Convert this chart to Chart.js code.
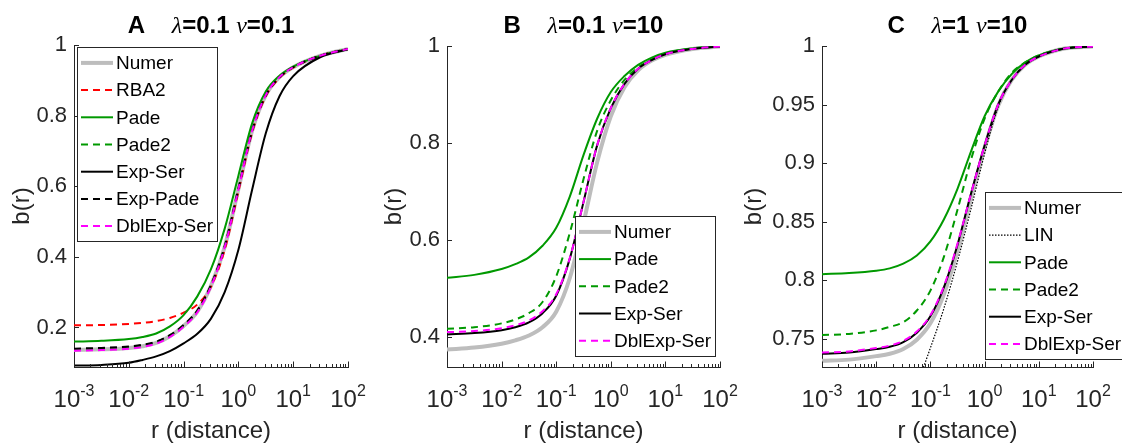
<!doctype html>
<html lang="en">
<head>
<meta charset="utf-8">
<title>b(r) approximations</title>
<script src="https://cdn.jsdelivr.net/npm/chart.js@4.4.1/dist/chart.umd.min.js"></script>
<style>
    body { margin: 0; background: #fff; }
    #wrap { position: relative; width: 1122px; height: 446px; }
    #wrap canvas { position: absolute; top: 0; }
</style>
</head>
<body>
<div id="wrap">
    <canvas id="chartA" width="372" height="446" style="left:0px"></canvas>
    <canvas id="chartB" width="366" height="446" style="left:372px"></canvas>
    <canvas id="chartC" width="384" height="446" style="left:738px"></canvas>
</div>

<script>
    // r (distance) samples, quarter / half decades
    const rDist = [0.001, 0.00316, 0.01, 0.0178, 0.0316, 0.0562, 0.1, 0.178, 0.316, 0.562, 1, 1.78, 3.16, 5.62, 10, 31.6, 100];
    const xTicks = [0.001, 0.01, 0.1, 1, 10, 100];
    const xTickExp = ['-3', '-2', '-1', '0', '1', '2'];

    // A: lambda=0.1 nu=0.1
    const yTicksA = [0.2, 0.4, 0.6, 0.8, 1];
    const numerA   = [0.136, 0.138, 0.142, 0.147, 0.156, 0.175, 0.204, 0.245, 0.318, 0.428, 0.592, 0.757, 0.858, 0.909, 0.937, 0.970, 0.989];
    const rba2A    = [0.206, 0.207, 0.210, 0.213, 0.218, 0.227, 0.242, 0.265, 0.315, 0.420, 0.585, 0.752, 0.855, 0.907, 0.936, 0.970, 0.989];
    const padeA    = [0.160, 0.162, 0.167, 0.173, 0.183, 0.203, 0.235, 0.288, 0.365, 0.480, 0.630, 0.778, 0.868, 0.913, 0.939, 0.970, 0.989];
    const pade2A   = [0.138, 0.140, 0.144, 0.149, 0.158, 0.177, 0.206, 0.247, 0.320, 0.431, 0.595, 0.759, 0.859, 0.909, 0.937, 0.970, 0.989];
    const expSerA  = [0.092, 0.094, 0.100, 0.108, 0.118, 0.133, 0.155, 0.182, 0.225, 0.300, 0.420, 0.590, 0.750, 0.855, 0.912, 0.966, 0.988];
    const expPadeA = [0.140, 0.142, 0.146, 0.151, 0.160, 0.178, 0.207, 0.248, 0.320, 0.429, 0.592, 0.756, 0.857, 0.908, 0.937, 0.970, 0.989];
    const dblExpA  = [0.134, 0.136, 0.140, 0.145, 0.154, 0.173, 0.202, 0.243, 0.316, 0.427, 0.591, 0.757, 0.858, 0.909, 0.937, 0.970, 0.989];

    // B: lambda=0.1 nu=10
    const yTicksB = [0.4, 0.6, 0.8, 1];
    const numerB  = [0.374, 0.378, 0.386, 0.393, 0.403, 0.420, 0.452, 0.522, 0.635, 0.760, 0.855, 0.915, 0.950, 0.970, 0.982, 0.994, 0.999];
    const padeB   = [0.522, 0.528, 0.540, 0.550, 0.564, 0.588, 0.625, 0.690, 0.775, 0.850, 0.905, 0.938, 0.961, 0.976, 0.986, 0.995, 0.999];
    const pade2B  = [0.417, 0.420, 0.428, 0.436, 0.449, 0.472, 0.525, 0.615, 0.725, 0.825, 0.888, 0.930, 0.956, 0.972, 0.984, 0.995, 0.999];
    const expSerB = [0.405, 0.408, 0.414, 0.420, 0.430, 0.449, 0.485, 0.562, 0.678, 0.795, 0.872, 0.922, 0.953, 0.971, 0.983, 0.994, 0.999];
    const dblExpB = [0.410, 0.412, 0.418, 0.424, 0.434, 0.453, 0.488, 0.563, 0.678, 0.795, 0.872, 0.922, 0.953, 0.971, 0.983, 0.994, 0.999];

    // C: lambda=1 nu=10
    const yTicksC = [0.75, 0.8, 0.85, 0.9, 0.95, 1];
    const numerC  = [0.731, 0.732, 0.735, 0.737, 0.741, 0.749, 0.763, 0.788, 0.825, 0.870, 0.913, 0.949, 0.971, 0.984, 0.991, 0.998, 0.9995];
    const linC    = [null, null, null, null, 0.680, 0.710, 0.742, 0.776, 0.816, 0.861, 0.908, 0.948, 0.971, 0.984, 0.991, 0.998, 0.9995];
    const padeC   = [0.805, 0.806, 0.808, 0.810, 0.814, 0.821, 0.833, 0.852, 0.878, 0.910, 0.940, 0.961, 0.976, 0.986, 0.992, 0.998, 0.9995];
    const pade2C  = [0.753, 0.754, 0.757, 0.760, 0.764, 0.774, 0.791, 0.820, 0.860, 0.903, 0.938, 0.961, 0.977, 0.986, 0.992, 0.998, 0.9995];
    const expSerC = [0.737, 0.738, 0.741, 0.743, 0.747, 0.755, 0.769, 0.794, 0.830, 0.874, 0.915, 0.950, 0.971, 0.984, 0.991, 0.998, 0.9995];
    const dblExpC = [0.738, 0.739, 0.742, 0.744, 0.748, 0.756, 0.770, 0.795, 0.831, 0.874, 0.915, 0.950, 0.971, 0.984, 0.991, 0.998, 0.9995];
</script>

<script>
    const AXIS = '#262626';
    const SANS = '"Liberation Sans", Arial, sans-serif';
    Chart.defaults.font.family = SANS;
    Chart.defaults.color = AXIS;

    const styles = {
        'Numer':      {color: '#bdbdbd', width: 4,   dash: []},
        'RBA2':       {color: '#ff0000', width: 2,   dash: [7, 5]},
        'LIN':        {color: '#000000', width: 1.2, dash: [1.5, 1.5]},
        'Pade':       {color: '#009900', width: 2,   dash: []},
        'Pade2':      {color: '#009900', width: 2,   dash: [7, 5]},
        'Exp-Ser':    {color: '#000000', width: 2,   dash: []},
        'Exp-Pade':   {color: '#000000', width: 2,   dash: [7, 5]},
        'DblExp-Ser': {color: '#ff00ff', width: 2,   dash: [7, 5]}
    };

    const panels = [
        {canvas: 'chartA', left: 0, width: 372, area: {l: 74, r: 348, t: 45, b: 367},
            yMin: 0.088, yTicks: yTicksA, letter: 'A', lambda: '0.1', nu: '0.1', yTitlePad: 8,
            legend: {x: 77, y: 47},
            series: [['Numer', numerA], ['RBA2', rba2A], ['Pade', padeA], ['Pade2', pade2A],
                ['Exp-Ser', expSerA], ['Exp-Pade', expPadeA], ['DblExp-Ser', dblExpA]]},
        {canvas: 'chartB', left: 372, width: 366, area: {l: 447, r: 720, t: 46, b: 367},
            yMin: 0.338, yTicks: yTicksB, letter: 'B', lambda: '0.1', nu: '10', yTitlePad: 7.5,
            legend: {x: 575, y: 216},
            series: [['Numer', numerB], ['Pade', padeB], ['Pade2', pade2B],
                ['Exp-Ser', expSerB], ['DblExp-Ser', dblExpB]]},
        {canvas: 'chartC', left: 738, width: 384, area: {l: 822, r: 1093, t: 46, b: 367},
            yMin: 0.7257, yTicks: yTicksC, letter: 'C', lambda: '1', nu: '10', yTitlePad: 1.5,
            legend: {x: 985, y: 192},
            series: [['Numer', numerC], ['LIN', linC], ['Pade', padeC], ['Pade2', pade2C],
                ['Exp-Ser', expSerC], ['DblExp-Ser', dblExpC]]}
    ];

    function hline(ctx, x1, y1, x2, y2) {
        ctx.beginPath();
        ctx.moveTo(x1, y1);
        ctx.lineTo(x2, y2);
        ctx.stroke();
    }

    // matlab-like decorations: inward ticks, 10^n labels, title, boxed legend
    const decor = {
        id: 'decor',
        afterDraw(chart) {
            const p = chart.config.options.plugins.decor.panel;
            const ctx = chart.ctx, a = chart.chartArea;
            const xs = chart.scales.x, ys = chart.scales.y;
            ctx.save();
            ctx.strokeStyle = AXIS;
            ctx.lineWidth = 1;
            ctx.setLineDash([]);

            ys.ticks.forEach(t => {
                const py = Math.round(ys.getPixelForValue(t.value)) + 0.5;
                hline(ctx, a.left, py, a.left + 5, py);
            });
            for (let e = -3; e <= 2; e++) {
                for (let m = 1; m <= 9; m++) {
                    const v = m * Math.pow(10, e);
                    if (v > 100.0001) break;
                    const px = Math.round(xs.getPixelForValue(v)) + 0.5;
                    hline(ctx, px, a.bottom, px, a.bottom - (m === 1 ? 5.5 : 3));
                }
            }

            // x tick labels with superscript exponent
            ctx.fillStyle = AXIS;
            ctx.textBaseline = 'alphabetic';
            ctx.textAlign = 'left';
            xTicks.forEach((v, i) => {
                const px = xs.getPixelForValue(v);
                ctx.font = '24px ' + SANS;
                const w1 = ctx.measureText('10').width;
                ctx.font = '16px ' + SANS;
                const w2 = ctx.measureText(xTickExp[i]).width;
                const x0 = px - (w1 + w2) / 2;
                ctx.font = '24px ' + SANS;
                ctx.fillText('10', x0, 407);
                ctx.font = '16px ' + SANS;
                ctx.fillText(xTickExp[i], x0 + w1, 396);
            });

            // title
            const bold = 'bold 24px ' + SANS, greek = 'italic 24px "Liberation Serif", "DejaVu Serif", serif';
            const parts = [[p.letter + '    ', bold], ['λ', greek], ['=' + p.lambda + ' ', bold], ['ν', greek], ['=' + p.nu, bold]];
            let tw = 0;
            parts.forEach(s => { ctx.font = s[1]; tw += ctx.measureText(s[0]).width; });
            let tx = (a.left + a.right) / 2 - tw / 2;
            ctx.fillStyle = '#000';
            parts.forEach(s => {
                ctx.font = s[1];
                ctx.fillText(s[0], tx, 33);
                tx += ctx.measureText(s[0]).width;
            });

            // legend
            ctx.font = '19px ' + SANS;
            let maxW = 0;
            p.series.forEach(s => { maxW = Math.max(maxW, ctx.measureText(s[0]).width); });
            const bx = Math.round(p.legend.x - p.left) + 0.5, by = Math.round(p.legend.y) + 0.5;
            const bw = Math.round(38.5 + maxW + 4), bh = Math.round(p.series.length * 27.2 + 3.5);
            ctx.fillStyle = '#fff';
            ctx.fillRect(bx, by, bw, bh);
            ctx.strokeStyle = AXIS;
            ctx.strokeRect(bx, by, bw, bh);
            ctx.textBaseline = 'middle';
            p.series.forEach((s, i) => {
                const st = styles[s[0]];
                const cy = by + 15.4 + i * 27.2;
                ctx.strokeStyle = st.color;
                ctx.lineWidth = st.width;
                ctx.setLineDash(st.dash);
                hline(ctx, bx + 3.5, cy, bx + 35.5, cy);
                ctx.fillStyle = '#000';
                ctx.fillText(s[0], bx + 38.5, cy + 1);
            });
            ctx.restore();
        }
    };

    panels.forEach(p => {
        const datasets = p.series.map(([name, vals], i) => ({
            label: name,
            data: rDist.map((r, k) => ({x: r, y: vals[k]})),
            borderColor: styles[name].color,
            borderWidth: styles[name].width,
            borderDash: styles[name].dash,
            pointRadius: 0,
            fill: false,
            cubicInterpolationMode: 'monotone',
            order: p.series.length - i
        }));

        new Chart(document.getElementById(p.canvas), {
            type: 'line',
            data: {datasets: datasets},
            plugins: [decor],
            options: {
                responsive: false,
                animation: false,
                devicePixelRatio: 1,
                layout: {padding: {left: 0, top: p.area.t, bottom: 0, right: p.width - (p.area.r - p.left)}},
                plugins: {legend: {display: false}, tooltip: {enabled: false}, decor: {panel: p}},
                scales: {
                    x: {
                        type: 'logarithmic', min: 0.001, max: 100,
                        grid: {drawOnChartArea: false, drawTicks: false},
                        border: {color: AXIS, width: 1},
                        ticks: {display: false},
                        title: {display: true, text: 'r (distance)', font: {size: 24}, color: AXIS, padding: 0},
                        afterFit: s => { s.height = 446 - p.area.b; }
                    },
                    y: {
                        type: 'linear', min: p.yMin, max: 1,
                        grid: {drawOnChartArea: false, drawTicks: false},
                        border: {color: AXIS, width: 1},
                        afterBuildTicks: s => { s.ticks = p.yTicks.map(v => ({value: v})); },
                        ticks: {
                            autoSkip: false, padding: 7, font: {size: 22}, color: AXIS,
                            callback: v => String(+v.toFixed(2))
                        },
                        title: {display: true, text: 'b(r)', font: {size: 24}, color: AXIS, padding: {top: p.yTitlePad, bottom: 0}},
                        afterFit: s => { s.width = p.area.l - p.left; }
                    }
                }
            }
        });
    });
</script>
</body>
</html>
